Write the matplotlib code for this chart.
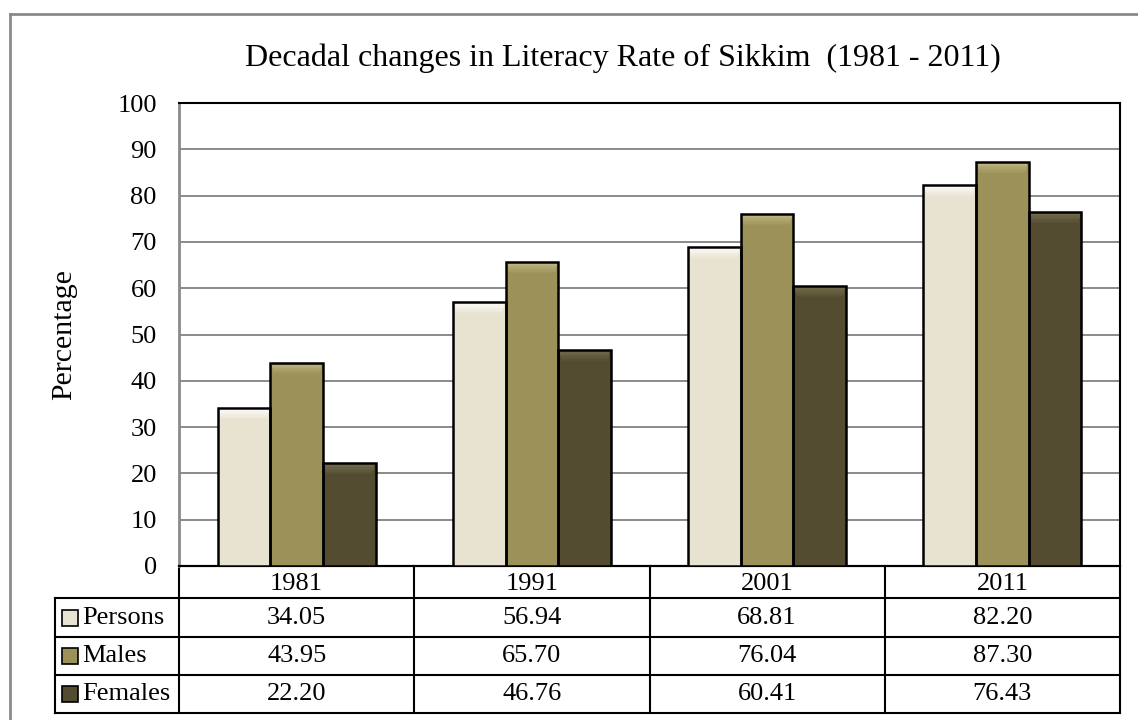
import matplotlib
matplotlib.use("Agg")
import matplotlib.pyplot as plt
from matplotlib.patches import Rectangle
from matplotlib.lines import Line2D
import numpy as np

plt.rcParams['font.family'] = ['Liberation Serif', 'DejaVu Serif']

years = ['1981', '1991', '2001', '2011']
series_names = ['Persons', 'Males', 'Females']
persons = [34.05, 56.94, 68.81, 82.20]
males = [43.95, 65.70, 76.04, 87.30]
females = [22.20, 46.76, 60.41, 76.43]
yticks = list(range(0, 101, 10))

series = [persons, males, females]
colors = ['#E8E3D0', '#9B9159', '#534C31']
highlights = ['#FFFFFF', '#C9C08A', '#7A7352']

W, H = 1138, 720
fig = plt.figure(figsize=(W / 100, H / 100), dpi=100)

# plot area in pixel terms
L, R, T, B = 179, 1120, 103, 566
ax = fig.add_axes([L / W, 1 - B / H, (R - L) / W, (B - T) / H])

x = np.arange(len(years))
bw = 0.224
n_steps = 8
band = 2.4
for i, (vals, c, hc) in enumerate(zip(series, colors, highlights)):
    pos = x + (i - 1) * bw
    ax.bar(pos, vals, width=bw, color=c, edgecolor='none', zorder=3)
    # soft bevel highlight fading down from the top of each bar
    for p, v in zip(pos, vals):
        for k in range(n_steps):
            a = 0.85 * (1 - k / n_steps)
            inset = 0.004 + 0.010 * (k / n_steps)
            ax.add_patch(Rectangle((p - bw / 2 + inset, v - (k + 1) * band / n_steps),
                                   bw - 2 * inset, band / n_steps,
                                   facecolor=hc, edgecolor='none', alpha=a, zorder=4))
    ax.bar(pos, vals, width=bw, color='none', edgecolor='black', linewidth=1.8, zorder=5)

ax.set_xlim(-0.5, len(years) - 0.5)
ax.set_ylim(0, 100)
ax.set_yticks(yticks)
ax.set_yticklabels([str(t) for t in yticks], fontsize=19)
ax.tick_params(axis='y', length=0, pad=16)
ax.set_xticks([])
ax.yaxis.grid(True, color='#8a8a8a', linewidth=1.4, zorder=0)
ax.set_axisbelow(True)
for s in ['top', 'right']:
    ax.spines[s].set_color('black')
    ax.spines[s].set_linewidth(1.5)
ax.spines['left'].set_color('#8a8a8a')
ax.spines['left'].set_linewidth(2)
ax.spines['bottom'].set_color('black')
ax.spines['bottom'].set_linewidth(1.5)

ax.set_ylabel('Percentage', fontsize=21.5)
ax.yaxis.set_label_coords((77 - L) / (R - L), 0.5)

# data table under the chart
ph = B - T


def ay(py):
    return -(py - B) / ph


rows_y = [566, 598, 637, 675, 713]
col_edges = [-0.5, 0.5, 1.5, 2.5, 3.5]
label_left = (55 - L) / (R - L)
trans_x = ax.get_xaxis_transform()
lw = 1.5

# horizontal lines
ax.add_line(Line2D([-0.5, 3.5], [ay(rows_y[0])] * 2, transform=trans_x,
                   color='black', lw=lw, clip_on=False))
for py in rows_y[1:]:
    ax.add_line(Line2D([label_left, 1], [ay(py)] * 2, transform=ax.transAxes,
                       color='black', lw=lw, clip_on=False))
# vertical lines
for ce in col_edges:
    ax.add_line(Line2D([ce, ce], [ay(566), ay(713)], transform=trans_x,
                       color='black', lw=lw, clip_on=False))
ax.add_line(Line2D([label_left, label_left], [ay(598), ay(713)], transform=ax.transAxes,
                   color='black', lw=lw, clip_on=False))

# header row
for xi, yr in zip(x, years):
    ax.text(xi, ay((rows_y[0] + rows_y[1]) / 2 + 2), yr, transform=trans_x,
            ha='center', va='center', fontsize=19)

# data rows
for r, (name, vals, c) in enumerate(zip(series_names, series, colors)):
    yc = ay((rows_y[r + 1] + rows_y[r + 2]) / 2)
    for xi, v in zip(x, vals):
        ax.text(xi, yc, f'{v:.2f}', transform=trans_x, ha='center', va='center', fontsize=19)
    key_l = (62 - L) / (R - L)
    key_w = 16 / (R - L)
    key_h = 16 / ph
    ax.add_patch(Rectangle((key_l, yc - key_h / 2), key_w, key_h, transform=ax.transAxes,
                           facecolor=c, edgecolor='black', lw=1.2, clip_on=False))
    ax.text((82 - L) / (R - L), yc, name, transform=ax.transAxes,
            ha='left', va='center', fontsize=19)

# title
fig.text(623 / W, 1 - 58 / H, 'Decadal changes in Literacy Rate of Sikkim  (1981 - 2011)',
         ha='center', va='center', fontsize=23)

# outer frame (left and top edges)
fig.add_artist(Line2D([9.5 / W, 9.5 / W], [0, 1 - 13.5 / H], transform=fig.transFigure,
                      color='#8a8a8a', lw=2))
fig.add_artist(Line2D([9.5 / W, 1], [1 - 13.5 / H, 1 - 13.5 / H], transform=fig.transFigure,
                      color='#8a8a8a', lw=2))

fig.savefig('out.png', dpi=100)
